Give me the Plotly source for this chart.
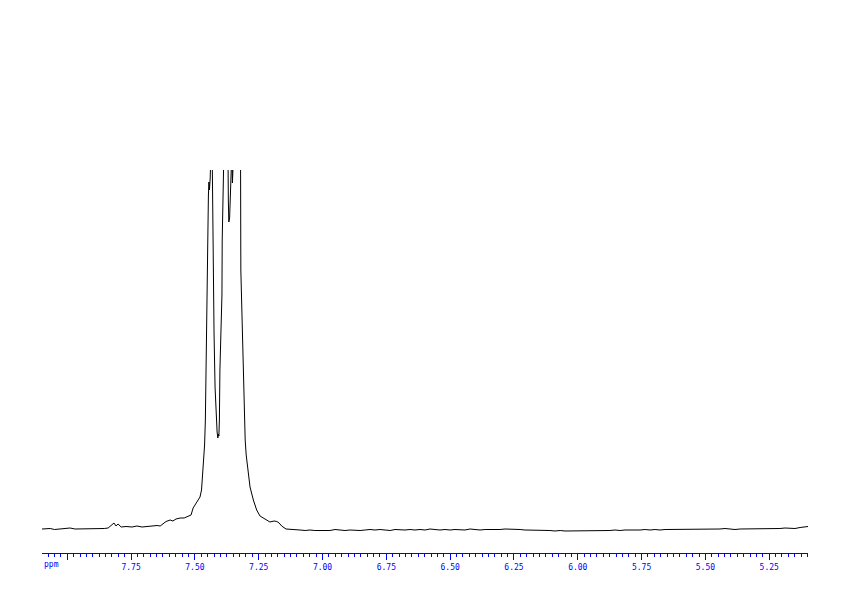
import plotly.graph_objects as go

# Chemical shift (ppm) and intensity (arbitrary units)
ppm = [
    8.099, 8.085, 8.067, 8.050, 8.028, 8.010, 7.989, 7.970, 7.950, 7.930, 7.911, 7.890,
    7.871, 7.855, 7.840, 7.824, 7.817, 7.809, 7.801, 7.789, 7.770, 7.746, 7.727, 7.707,
    7.684, 7.668, 7.648, 7.636, 7.625, 7.613, 7.597, 7.586, 7.574, 7.558, 7.542, 7.527,
    7.515, 7.507, 7.496, 7.488, 7.480, 7.474, 7.470, 7.466, 7.462, 7.459, 7.457, 7.455,
    7.451, 7.450, 7.447, 7.445, 7.443, 7.440, 7.438, 7.435, 7.432, 7.431, 7.428, 7.425,
    7.421, 7.417, 7.413, 7.410, 7.408, 7.406, 7.404, 7.402, 7.398, 7.394, 7.393, 7.391,
    7.390, 7.388, 7.384, 7.376, 7.370, 7.369, 7.367, 7.364, 7.361, 7.359, 7.355, 7.353,
    7.351, 7.342, 7.329, 7.321, 7.320, 7.316, 7.310, 7.306, 7.303, 7.299, 7.290, 7.284,
    7.271, 7.258, 7.245, 7.225, 7.206, 7.190, 7.179, 7.170, 7.160, 7.143, 7.127, 7.108,
    7.088, 7.068, 7.049, 7.030, 7.010, 6.990, 6.971, 6.951, 6.931, 6.912, 6.892, 6.873,
    6.853, 6.833, 6.814, 6.794, 6.775, 6.755, 6.735, 6.716, 6.696, 6.677, 6.657, 6.638,
    6.618, 6.598, 6.579, 6.559, 6.540, 6.520, 6.500, 6.481, 6.461, 6.442, 6.422, 6.402,
    6.383, 6.363, 6.344, 6.324, 6.305, 6.285, 6.265, 6.246, 6.226, 6.207, 6.187, 6.167,
    6.148, 6.128, 6.109, 6.089, 6.069, 6.050, 6.030, 6.011, 5.991, 5.972, 5.952, 5.932,
    5.913, 5.893, 5.874, 5.854, 5.834, 5.815, 5.795, 5.776, 5.756, 5.736, 5.717, 5.697,
    5.678, 5.658, 5.639, 5.619, 5.599, 5.580, 5.560, 5.541, 5.521, 5.501, 5.482, 5.462,
    5.443, 5.423, 5.404, 5.384, 5.364, 5.345, 5.325, 5.306, 5.286, 5.266, 5.247, 5.227,
    5.208, 5.188, 5.168, 5.149, 5.129, 5.110, 5.098,
]
intensity = [
    -1.0, -0.5, -0.5, -1.5, -1.0, -0.5, 0.0, -1.0, -1.0, -0.5, -0.5, -1.0,
    -1.0, -0.5, 0.0, 3.0, 5.0, 2.0, 4.0, 1.0, 1.5, 1.0, 2.0, 1.0,
    1.5, 2.0, 2.5, 2.0, 4.0, 6.5, 8.0, 7.0, 9.0, 10.0, 10.0, 11.5,
    13.0, 20.0, 24.0, 28.0, 31.0, 38.0, 53.0, 68.0, 83.0, 108.0, 148.0, 178.0,
    248.0, 308.0, 333.0, 346.0, 338.0, 350.0, 378.0, 408.0, 368.0, 328.0, 258.0, 195.0,
    141.0, 113.0, 96.0, 90.0, 94.0, 92.0, 108.0, 158.0, 198.0, 233.0, 288.0, 368.0,
    346.0, 363.0, 408.0, 408.0, 363.0, 328.0, 306.0, 310.0, 333.0, 368.0, 378.0, 345.0,
    368.0, 418.0, 408.0, 363.0, 258.0, 215.0, 171.0, 118.0, 88.0, 73.0, 55.0, 41.0,
    28.0, 18.0, 12.0, 9.0, 6.0, 7.0, 6.5, 5.0, 2.0, -1.0, -1.5, -2.0,
    -2.0, -2.5, -2.0, -2.5, -2.5, -2.0, -2.5, -1.5, -2.0, -2.5, -2.0, -2.5,
    -2.5, -2.0, -1.5, -2.0, -1.5, -2.0, -2.5, -1.5, -2.0, -2.0, -1.5, -2.0,
    -1.5, -2.0, -1.0, -1.5, -2.0, -1.5, -2.0, -1.5, -1.5, -2.0, -1.0, -1.5,
    -2.0, -1.5, -1.5, -2.0, -1.5, -1.0, -1.0, -1.0, -1.5, -2.0, -2.0, -2.5,
    -2.0, -2.5, -2.5, -3.0, -2.5, -3.0, -3.0, -2.5, -3.0, -2.5, -2.5, -3.0,
    -2.5, -2.5, -2.5, -2.0, -2.5, -2.0, -2.0, -2.5, -2.0, -1.5, -2.0, -1.5,
    -2.0, -1.5, -1.5, -1.0, -1.5, -1.5, -1.5, -1.0, -1.5, -1.0, -1.0, -1.5,
    -1.0, -0.5, -1.0, -1.5, -1.0, -1.0, -1.0, -0.5, -1.0, -0.5, -0.5, -1.0,
    -0.5, 0.0, 0.0, -0.5, 0.5, 1.0, 1.5,
]

tick_vals = [8.00, 7.75, 7.50, 7.25, 7.00, 6.75, 6.50, 6.25, 6.00, 5.75, 5.50, 5.25]
tick_text = ["", "7.75", "7.50", "7.25", "7.00", "6.75", "6.50", "6.25", "6.00", "5.75", "5.50", "5.25"]
axis_unit = "ppm"

BLUE = "#0000ff"
FONT = dict(family="DejaVu Sans Mono", size=8, color=BLUE)

fig = go.Figure()
fig.add_trace(go.Scatter(
    x=ppm, y=intensity, mode="lines",
    line=dict(color="black", width=1),
    hoverinfo="skip", showlegend=False,
))

fig.update_layout(
    width=834, height=588,
    margin=dict(l=34, r=34, t=162, b=43),
    paper_bgcolor="white", plot_bgcolor="white",
    xaxis=dict(
        range=[8.099, 5.098],
        showgrid=False, zeroline=False,
        showline=True, linecolor=BLUE, linewidth=1,
        ticks="outside", ticklen=6, tickwidth=1, tickcolor=BLUE,
        tickmode="array", tickvals=tick_vals, ticktext=tick_text,
        tickfont=FONT,
        minor=dict(ticks="outside", ticklen=3, tickwidth=1, tickcolor=BLUE,
                   tickmode="linear", tick0=5.0, dtick=0.025, showgrid=False),
    ),
    yaxis=dict(visible=False, range=[-25, 358]),
    annotations=[dict(
        text=axis_unit, xref="paper", yref="paper", x=0.0, y=-0.031,
        xanchor="left", yanchor="middle", showarrow=False, font=FONT,
    )],
)

fig.write_html("out.html")
